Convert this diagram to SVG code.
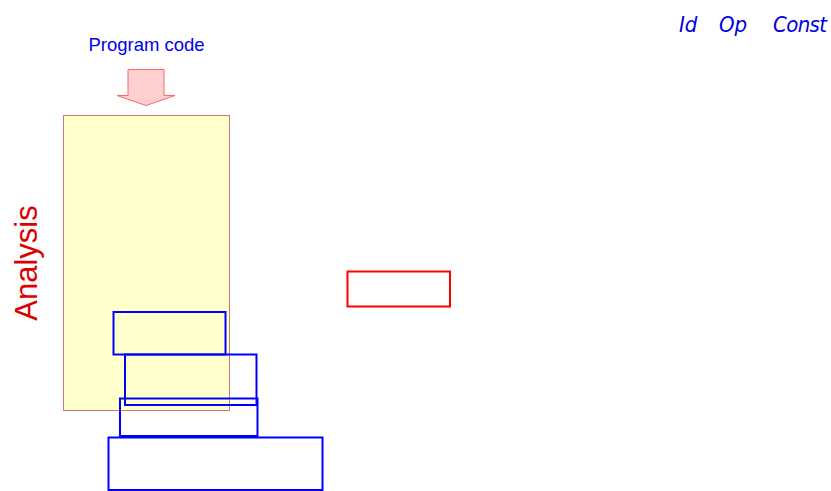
<svg xmlns="http://www.w3.org/2000/svg" width="831" height="491" viewBox="0 0 831 491">
<style>
.blue{fill:none;stroke:#0000ff;stroke-width:2}
.hand{font-family:"DejaVu Sans Condensed","DejaVu Sans",sans-serif;font-style:oblique;fill:#0000e0;font-size:22px}
</style>
<rect width="831" height="491" fill="#ffffff"/>
<g id="analysis">
<rect x="63.5" y="115.5" width="166" height="295" fill="#ffffcc" stroke="#cc7777" stroke-width="1"/>
<text transform="translate(37,263) rotate(-90)" text-anchor="middle" font-family="Liberation Sans, Arial, sans-serif" font-size="31" fill="#dd0000">Analysis</text>
</g>
<g id="program-code">
<text x="146.5" y="51" text-anchor="middle" font-family="Liberation Sans, Arial, sans-serif" font-size="18.5" fill="#0000ee">Program code</text>
<path d="M128,69.5 H164 V95.5 H175 L146,105.5 L117,95.5 H128 Z" fill="#ffd0d0" stroke="#ff6666" stroke-width="1"/>
</g>
<g id="red-box"><rect x="347.5" y="271.5" width="102.5" height="35" fill="none" stroke="#ff0000" stroke-width="2"/></g>
<g id="box1"><rect class="blue" x="113.5" y="312" width="112" height="42.5"/></g>
<g id="box2"><rect class="blue" x="125" y="354.5" width="131.5" height="50.5"/></g>
<g id="box3"><rect class="blue" x="120" y="398.5" width="137.5" height="37.5"/></g>
<g id="box4"><rect class="blue" x="108.5" y="437.5" width="214" height="52.5"/></g>
<g id="handwriting">
<text class="hand" x="679" y="32">Id</text>
<text class="hand" x="719" y="32">Op</text>
<text class="hand" x="773" y="32" textLength="54">Const</text>
</g>
<g id="connectors"/>
</svg>
